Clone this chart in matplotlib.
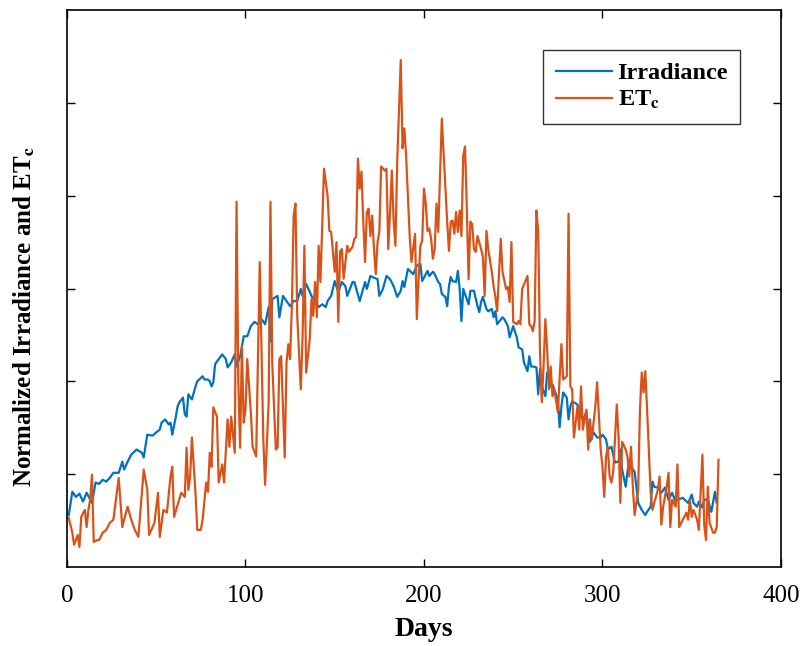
import matplotlib
matplotlib.use("Agg")
import matplotlib.pyplot as plt

# normalized daily irradiance
irr_days = [1, 3, 5, 7, 9, 11, 14, 16, 18, 20,
            22, 24, 26, 29, 31, 32, 34, 36, 39, 42,
            43, 45, 48, 50, 52, 53, 55, 57, 58, 59,
            61, 62, 63, 65, 66, 67, 68, 70, 72, 73,
            76, 77, 79, 80, 81, 82, 83, 85, 87, 89,
            90, 92, 94, 95, 97, 99, 101, 103, 105, 107,
            109, 111, 113, 114, 115, 118, 119, 121, 123, 125,
            127, 129, 131, 132, 134, 137, 139, 141, 143, 145,
            146, 148, 150, 152, 154, 156, 157, 160, 161, 164,
            167, 168, 170, 171, 174, 175, 177, 179, 181, 183,
            185, 187, 188, 189, 191, 194, 196, 198, 199, 202,
            203, 205, 206, 208, 209, 210, 212, 213, 214, 215,
            216, 218, 219, 220, 221, 222, 224, 225, 226, 228,
            230, 231, 232, 233, 235, 236, 238, 239, 240, 241,
            244, 245, 247, 248, 250, 252, 253, 255, 256, 258,
            259, 260, 261, 263, 264, 265, 266, 268, 269, 271,
            272, 275, 276, 277, 278, 280, 281, 282, 283, 286,
            287, 289, 291, 293, 295, 297, 299, 300, 302, 303,
            305, 307, 309, 310, 311, 313, 314, 315, 316, 318,
            319, 320, 322, 324, 325, 327, 328, 329, 331, 333,
            335, 337, 339, 341, 342, 345, 346, 348, 350, 351,
            353, 354, 356, 357, 359, 361, 363, 364]
irr_vals = [0.112, 0.162, 0.151, 0.158, 0.141, 0.160, 0.138, 0.182, 0.179, 0.188,
            0.184, 0.192, 0.203, 0.203, 0.227, 0.210, 0.227, 0.242, 0.253, 0.246,
            0.236, 0.285, 0.283, 0.290, 0.296, 0.311, 0.318, 0.307, 0.311, 0.285,
            0.324, 0.346, 0.355, 0.365, 0.329, 0.324, 0.372, 0.361, 0.389, 0.400,
            0.411, 0.404, 0.404, 0.400, 0.389, 0.398, 0.437, 0.448, 0.458, 0.448,
            0.430, 0.441, 0.458, 0.432, 0.454, 0.497, 0.497, 0.519, 0.528, 0.523,
            0.534, 0.523, 0.560, 0.486, 0.577, 0.584, 0.538, 0.584, 0.573, 0.562,
            0.573, 0.573, 0.599, 0.584, 0.610, 0.584, 0.571, 0.560, 0.566, 0.560,
            0.573, 0.584, 0.616, 0.592, 0.614, 0.605, 0.584, 0.614, 0.614, 0.573,
            0.614, 0.599, 0.627, 0.625, 0.620, 0.584, 0.599, 0.627, 0.620, 0.605,
            0.582, 0.595, 0.616, 0.603, 0.642, 0.631, 0.649, 0.653, 0.616, 0.638,
            0.627, 0.636, 0.631, 0.614, 0.610, 0.588, 0.582, 0.562, 0.605, 0.625,
            0.616, 0.614, 0.638, 0.599, 0.530, 0.599, 0.577, 0.566, 0.595, 0.595,
            0.562, 0.549, 0.571, 0.582, 0.556, 0.551, 0.556, 0.538, 0.551, 0.523,
            0.538, 0.534, 0.519, 0.495, 0.519, 0.495, 0.473, 0.469, 0.441, 0.422,
            0.454, 0.432, 0.432, 0.430, 0.372, 0.426, 0.389, 0.368, 0.419, 0.389,
            0.393, 0.361, 0.301, 0.346, 0.376, 0.365, 0.318, 0.346, 0.357, 0.350,
            0.333, 0.318, 0.333, 0.270, 0.290, 0.279, 0.279, 0.285, 0.275, 0.253,
            0.259, 0.225, 0.227, 0.253, 0.210, 0.173, 0.205, 0.231, 0.216, 0.205,
            0.173, 0.138, 0.123, 0.112, 0.119, 0.130, 0.184, 0.173, 0.171, 0.160,
            0.171, 0.145, 0.160, 0.141, 0.145, 0.149, 0.145, 0.138, 0.156, 0.138,
            0.130, 0.141, 0.128, 0.145, 0.145, 0.119, 0.162, 0.138]

# normalized crop evapotranspiration ETc
etc_days = [1, 3, 4, 6, 7, 8, 10, 11, 12, 13,
            14, 15, 17, 18, 20, 22, 24, 26, 29, 31,
            32, 34, 36, 38, 40, 43, 45, 46, 48, 49,
            51, 52, 54, 56, 58, 59, 60, 62, 64, 66,
            67, 68, 69, 70, 72, 73, 75, 76, 78, 79,
            80, 81, 82, 84, 85, 87, 88, 90, 91, 92,
            94, 95, 96, 97, 98, 99, 100, 101, 103, 104,
            106, 108, 110, 111, 113, 114, 115, 117, 118, 119,
            120, 122, 123, 124, 125, 126, 127, 128, 129, 131,
            132, 133, 134, 136, 137, 138, 139, 140, 141, 142,
            144, 146, 147, 148, 150, 151, 152, 153, 154, 155,
            157, 158, 160, 161, 162, 163, 164, 165, 166, 167,
            168, 169, 170, 171, 172, 173, 174, 175, 176, 178,
            179, 180, 181, 182, 183, 184, 185, 187, 188, 189,
            190, 192, 193, 195, 196, 197, 198, 199, 200, 201,
            202, 203, 204, 205, 206, 207, 208, 210, 212, 213,
            214, 215, 216, 217, 218, 219, 220, 221, 222, 223,
            224, 225, 226, 227, 228, 229, 230, 232, 233, 234,
            235, 236, 238, 239, 240, 241, 243, 244, 246, 247,
            248, 249, 250, 252, 253, 254, 255, 258, 259, 260,
            261, 262, 263, 264, 265, 266, 267, 268, 269, 270,
            271, 272, 273, 275, 277, 278, 280, 281, 282, 283,
            284, 286, 287, 288, 289, 291, 292, 293, 294, 296,
            297, 299, 300, 301, 302, 303, 304, 305, 306, 308,
            309, 310, 311, 313, 314, 315, 316, 317, 318, 320,
            321, 322, 323, 324, 325, 327, 328, 329, 331, 332,
            333, 334, 336, 337, 338, 339, 341, 342, 343, 345,
            347, 348, 349, 350, 351, 353, 354, 356, 357, 358,
            359, 360, 362, 363, 364, 365]
etc_vals = [0.106, 0.074, 0.048, 0.069, 0.043, 0.108, 0.123, 0.086, 0.123, 0.145,
            0.199, 0.054, 0.058, 0.058, 0.074, 0.080, 0.095, 0.102, 0.192, 0.086,
            0.102, 0.130, 0.102, 0.080, 0.065, 0.210, 0.166, 0.069, 0.086, 0.095,
            0.160, 0.065, 0.123, 0.117, 0.195, 0.216, 0.108, 0.134, 0.160, 0.151,
            0.257, 0.166, 0.195, 0.279, 0.160, 0.080, 0.080, 0.102, 0.182, 0.162,
            0.246, 0.216, 0.344, 0.324, 0.182, 0.221, 0.182, 0.318, 0.259, 0.324,
            0.246, 0.787, 0.398, 0.257, 0.476, 0.311, 0.339, 0.448, 0.333, 0.259,
            0.238, 0.657, 0.275, 0.177, 0.355, 0.787, 0.441, 0.253, 0.257, 0.448,
            0.454, 0.236, 0.441, 0.480, 0.448, 0.562, 0.757, 0.783, 0.541, 0.383,
            0.497, 0.692, 0.419, 0.491, 0.577, 0.541, 0.614, 0.538, 0.692, 0.614,
            0.858, 0.800, 0.724, 0.722, 0.636, 0.700, 0.528, 0.679, 0.685, 0.621,
            0.692, 0.679, 0.690, 0.707, 0.711, 0.880, 0.815, 0.852, 0.744, 0.657,
            0.765, 0.772, 0.713, 0.757, 0.685, 0.631, 0.700, 0.722, 0.863, 0.854,
            0.858, 0.685, 0.765, 0.854, 0.746, 0.692, 0.873, 1.092, 0.902, 0.945,
            0.886, 0.713, 0.657, 0.718, 0.534, 0.621, 0.692, 0.703, 0.815, 0.783,
            0.724, 0.729, 0.707, 0.664, 0.685, 0.783, 0.722, 0.966, 0.815, 0.744,
            0.681, 0.744, 0.746, 0.718, 0.765, 0.722, 0.768, 0.713, 0.886, 0.906,
            0.772, 0.620, 0.744, 0.739, 0.685, 0.679, 0.713, 0.685, 0.668, 0.584,
            0.724, 0.685, 0.636, 0.605, 0.582, 0.551, 0.707, 0.636, 0.599, 0.603,
            0.571, 0.700, 0.528, 0.523, 0.530, 0.523, 0.599, 0.627, 0.523, 0.519,
            0.508, 0.530, 0.768, 0.722, 0.463, 0.355, 0.432, 0.534, 0.469, 0.383,
            0.432, 0.368, 0.383, 0.333, 0.480, 0.404, 0.411, 0.761, 0.389, 0.383,
            0.279, 0.346, 0.296, 0.389, 0.296, 0.339, 0.253, 0.318, 0.275, 0.346,
            0.398, 0.253, 0.216, 0.151, 0.238, 0.259, 0.195, 0.182, 0.203, 0.350,
            0.281, 0.138, 0.270, 0.253, 0.238, 0.195, 0.259, 0.173, 0.112, 0.166,
            0.339, 0.419, 0.376, 0.422, 0.339, 0.160, 0.123, 0.138, 0.166, 0.195,
            0.091, 0.130, 0.173, 0.203, 0.086, 0.145, 0.130, 0.221, 0.086, 0.102,
            0.117, 0.102, 0.145, 0.108, 0.123, 0.102, 0.080, 0.242, 0.091, 0.058,
            0.173, 0.095, 0.074, 0.074, 0.086, 0.231]

x_ticks = [0, 100, 200, 300, 400]
y_ticks = [0.2, 0.4, 0.6, 0.8, 1.0]

plt.rcParams['font.family'] = ['Liberation Serif', 'DejaVu Serif']
plt.rcParams['mathtext.fontset'] = 'stix'

fig = plt.figure(figsize=(8.01, 6.46), dpi=100)
ax = fig.add_axes([0.0836, 0.1223, 0.8914, 0.8622])

ax.plot(irr_days, irr_vals, color='#0072BD', lw=1.6, label='Irradiance')
ax.plot(etc_days, etc_vals, color='#D95319', lw=1.6, label=r'ET$_\mathbf{c}$')

ax.set_xlim(0, 400)
ax.set_ylim(0, 1.2)
ax.set_xticks(x_ticks)
ax.set_yticks(y_ticks)
ax.set_yticklabels([])
ax.tick_params(direction='in', length=6, width=1.0, top=True, right=True,
               labelsize=18, pad=13)
for s in ax.spines.values():
    s.set_linewidth(1.2)

ax.set_xlabel('Days', fontsize=20, fontweight='bold', labelpad=7)
ax.set_ylabel(r'Normalized Irradiance and ET$_\mathbf{c}$', fontsize=18,
              fontweight='bold')
ax.yaxis.set_label_coords(-0.042, 0.45)

leg = ax.legend(loc='upper right', bbox_to_anchor=(0.943, 0.928),
                prop={'size': 17.5, 'weight': 'bold'}, frameon=True,
                fancybox=False, handlelength=2.3, handletextpad=0.25,
                borderpad=0.5, labelspacing=0.2, borderaxespad=0)
leg.get_frame().set_edgecolor('black')
leg.get_frame().set_linewidth(1.0)

fig.savefig('out.png', dpi=100)
